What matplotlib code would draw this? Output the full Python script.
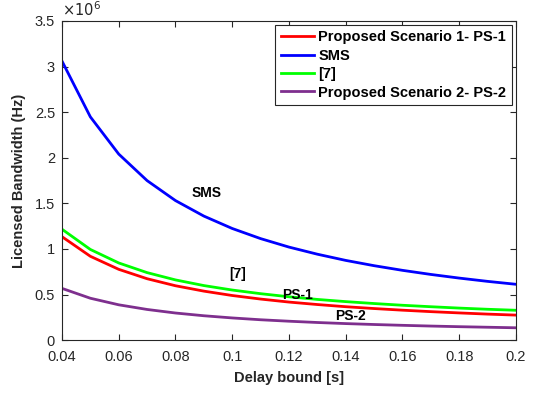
import numpy as np
import matplotlib
matplotlib.use("Agg")
import matplotlib.pyplot as plt

plt.rcParams['font.family'] = ['Liberation Sans', 'DejaVu Sans']

# delay bound [s]
delay = [0.04, 0.05, 0.06, 0.07, 0.08, 0.09, 0.10, 0.11, 0.12,
         0.13, 0.14, 0.15, 0.16, 0.17, 0.18, 0.19, 0.20]

# licensed bandwidth, units of 1e6 Hz
ps1 = [1.134, 0.919, 0.776, 0.673, 0.596, 0.537, 0.489, 0.450, 0.417,
       0.390, 0.366, 0.346, 0.328, 0.312, 0.298, 0.285, 0.274]
sms = [3.060, 2.448, 2.040, 1.749, 1.530, 1.360, 1.224, 1.113, 1.020,
       0.942, 0.874, 0.816, 0.765, 0.720, 0.680, 0.644, 0.612]
ref7 = [1.216, 0.994, 0.846, 0.740, 0.660, 0.598, 0.549, 0.509, 0.475,
        0.446, 0.422, 0.401, 0.382, 0.366, 0.351, 0.338, 0.327]
ps2 = [0.567, 0.459, 0.387, 0.336, 0.297, 0.267, 0.243, 0.223, 0.207,
       0.193, 0.181, 0.171, 0.162, 0.154, 0.147, 0.141, 0.135]

labels = ['Proposed Scenario 1- PS-1', 'SMS', '[7]', 'Proposed Scenario 2- PS-2']
colors = ['#ff0000', '#0000ff', '#00ff00', '#7e2f8e']

fig = plt.figure(figsize=(5.38, 3.95), dpi=100)
ax = fig.add_axes([0.1152, 0.139, 0.8438, 0.808])

x = np.array(delay)
for ys, lab, c in zip([ps1, sms, ref7, ps2], labels, colors):
    ax.plot(x, np.array(ys) * 1e6, color=c, lw=2, label=lab)

ax.set_xlim(0.04, 0.2)
ax.set_ylim(0, 3.5e6)
ax.set_xticks(np.arange(0.04, 0.201, 0.02))
ax.set_xticklabels(['0.04', '0.06', '0.08', '0.1', '0.12', '0.14', '0.16', '0.18', '0.2'])
ax.set_yticks(np.arange(0, 3.51e6, 0.5e6))
ax.set_yticklabels(['0', '0.5', '1', '1.5', '2', '2.5', '3', '3.5'])
ax.tick_params(direction='in', top=True, right=True, labelsize=10.5,
               colors='#262626', length=4, width=0.8)
ax.tick_params(axis='x', pad=7)
ax.tick_params(axis='y', pad=5)
for s in ax.spines.values():
    s.set_color('#262626')
    s.set_linewidth(0.8)

ax.text(0.0, 1.005, r'$\times10^{6}$', transform=ax.transAxes, fontsize=10.5,
        color='#262626', ha='left', va='bottom')

ax.set_xlabel('Delay bound [s]', fontsize=10.5, fontweight='bold', color='#262626', labelpad=5)
ax.set_ylabel('Licensed Bandwidth (Hz)', fontsize=10.5, fontweight='bold', color='#262626', labelpad=6)

ax.text(0.091, 1.61e6, 'SMS', fontsize=10, fontweight='bold', ha='center', va='center')
ax.text(0.102, 0.72e6, '[7]', fontsize=10, fontweight='bold', ha='center', va='center')
ax.text(0.123, 0.5e6, 'PS-1', fontsize=10, fontweight='bold', ha='center', va='center')
ax.text(0.1415, 0.26e6, 'PS-2', fontsize=10, fontweight='bold', ha='center', va='center')

leg = ax.legend(loc='upper right', prop={'weight': 'bold', 'size': 10.5},
                fancybox=False, framealpha=1, edgecolor='#262626',
                handlelength=2.3, handletextpad=0.3, borderpad=0.35,
                labelspacing=0.3, borderaxespad=0.3)
leg.get_frame().set_linewidth(0.8)

fig.savefig('out.png', dpi=100)
